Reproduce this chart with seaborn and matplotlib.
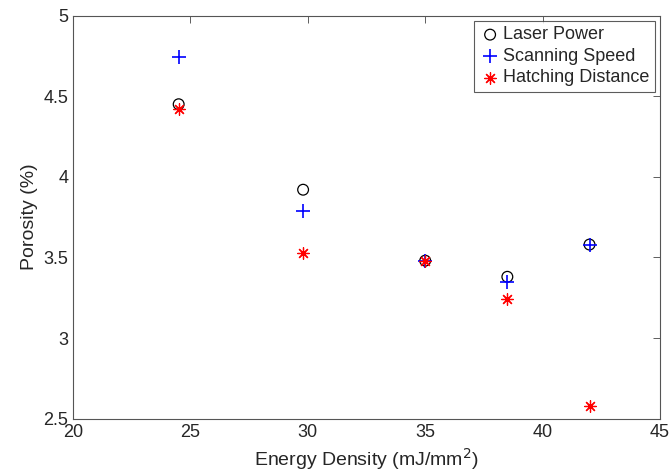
import matplotlib
matplotlib.use("Agg")
import matplotlib.pyplot as plt
import seaborn as sns

## DATOS

energia = [24.5, 29.8, 35.0, 38.5, 42.0]
laser_power = [4.45, 3.92, 3.48, 3.38, 3.58]
scanning_speed = [4.74, 3.79, 3.48, 3.35, 3.58]
hatching_distance = [4.42, 3.53, 3.48, 3.24, 2.58]

sns.set_style("white")
plt.rcParams['font.family'] = ['Liberation Sans', 'DejaVu Sans']

fig = plt.figure(figsize=(6.7, 4.71), dpi=100)
ax = fig.add_axes([0.109, 0.111, 0.876, 0.856])

sns.scatterplot(x=energia, y=laser_power, ax=ax, marker='o', s=60,
                facecolors='none', edgecolor='black', linewidth=0.9,
                label='Laser Power')
sns.scatterplot(x=energia, y=scanning_speed, ax=ax, marker='+', s=110,
                color='#0000ff', edgecolor='#0000ff', linewidth=1.2,
                label='Scanning Speed')
sns.scatterplot(x=energia, y=hatching_distance, ax=ax, marker=(8, 2, 0), s=70,
                color='red', edgecolor='red', linewidth=0.9,
                label='Hatching Distance')

ax.set_xlim(20, 45)
ax.set_ylim(2.5, 5)
ax.set_xticks([20, 25, 30, 35, 40, 45])
ax.set_yticks([2.5, 3, 3.5, 4, 4.5, 5])
ax.set_yticklabels(['2.5', '3', '3.5', '4', '4.5', '5'])
ax.tick_params(direction='in', top=True, right=True, length=5, width=0.6,
               labelsize=13, color='#444444')
for s in ax.spines.values():
    s.set_color('#555555')
    s.set_linewidth(0.8)

ax.set_xlabel('Energy Density (mJ/mm$^2$)', fontsize=14)
ax.set_ylabel('Porosity (%)', fontsize=14)

leg = ax.legend(loc='upper right', fontsize=13, frameon=True, fancybox=False,
                borderaxespad=0.3, handletextpad=0.1, handlelength=1.2,
                labelspacing=0.25, borderpad=0.3)
leg.get_frame().set_edgecolor('#333333')
leg.get_frame().set_linewidth(0.8)

fig.savefig('out.png', dpi=100)
